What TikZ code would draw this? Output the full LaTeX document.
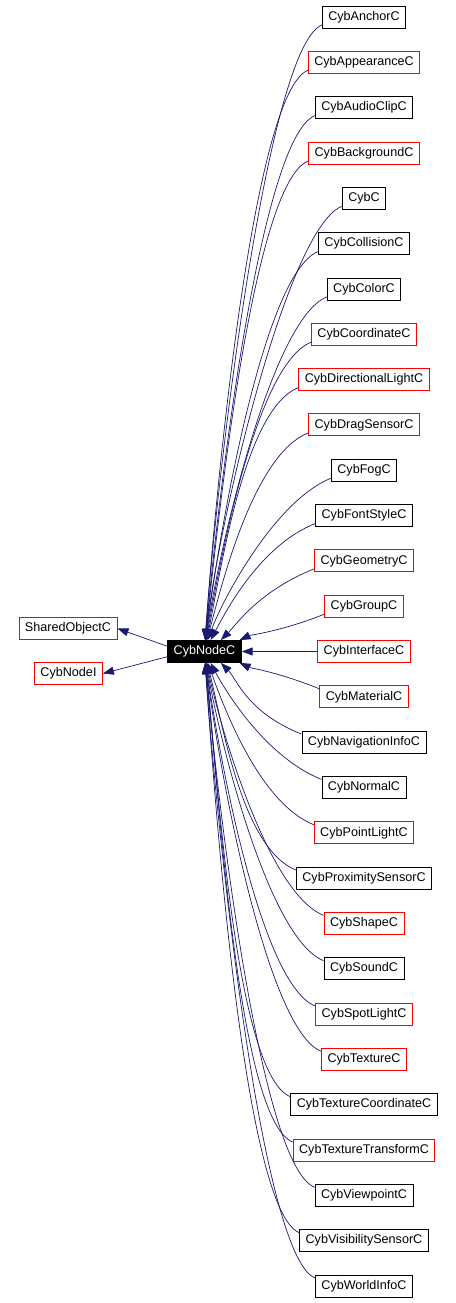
\documentclass[tikz,border=0pt]{standalone}
\usepackage{fontspec}
\setmainfont{Liberation Sans}
\usetikzlibrary{positioning, arrows.meta}

\begin{document}
\begin{tikzpicture}
            [x=1pt, y=1pt,
             cls/.style={draw, line width=0.8pt, inner xsep=6pt, inner ysep=0pt,
                         minimum height=22pt, font=\fontsize{12.6}{14}\selectfont},
             edge/.style={draw={rgb,255:red,25;green,25;blue,112}, line width=0.7pt,
                          -{Triangle[length=11pt, width=8pt]}}]
            \useasboundingbox (0,0) rectangle (455,-1303);

            \node[cls, fill=black, text=white] (CybNodeC) at (204.5,-651.5) {CybNodeC};
            \node[cls, draw=red] (SharedObjectC) at (68,-628.5) {SharedObjectC};
            \node[cls, draw=red] (CybNodeI) at (68.5,-673.5) {CybNodeI};

            \draw[edge] (CybNodeC.172) -- (SharedObjectC.east);
            \draw[edge] (CybNodeC.188) -- (CybNodeI.east);

            % derived classes, top to bottom: name/colour/anchor/arrival
            \foreach \name/\col/\a/\d [count=\i from 0] in
                {CybAnchorC/black/87/86, CybAppearanceC/red/87/86,
                 CybAudioClipC/black/86/85, CybBackgroundC/red/86/84,
                 CybC/black/85/84, CybCollisionC/black/84/83,
                 CybColorC/black/83/82, CybCoordinateC/red/82/80,
                 CybDirectionalLightC/red/80/78, CybDragSensorC/red/78/75,
                 CybFogC/black/74/70, CybFontStyleC/black/62/62,
                 CybGeometryC/red/35/45, CybGroupC/red/18/25,
                 CybInterfaceC/red/0/0,
                 CybMaterialC/red/-18/-25, CybNavigationInfoC/black/-35/-45,
                 CybNormalC/black/-62/-62, CybPointLightC/red/-74/-70,
                 CybProximitySensorC/black/-78/-75, CybShapeC/red/-80/-78,
                 CybSoundC/black/-82/-80, CybSpotLightC/red/-83/-82,
                 CybTextureC/red/-84/-83, CybTextureCoordinateC/black/-85/-84,
                 CybTextureTransformC/red/-86/-84, CybViewpointC/black/-86/-85,
                 CybVisibilitySensorC/black/-87/-86, CybWorldInfoC/black/-87/-86} {
                \pgfmathsetmacro\y{-17-45.32*\i}
                \pgfmathsetmacro\dy{abs(651.5+\y)}
                \pgfmathsetmacro\L{max(0.25*\dy, 12)}
                \pgfmathsetmacro\K{min(55, 0.5*\dy+20)}
                \pgfmathsetmacro\s{-0.4*\K*sign(14-\i)}
                \pgfmathsetmacro\off{-8*sign(14-\i)}
                \node[cls, draw=\col] (\name) at (364,\y) {\name};
                \draw[edge] ([yshift=\off pt]\name.west)
                    .. controls +(-\K,\s) and +(\d:\L) .. (CybNodeC.\a);
            }
        \end{tikzpicture}
\end{document}
